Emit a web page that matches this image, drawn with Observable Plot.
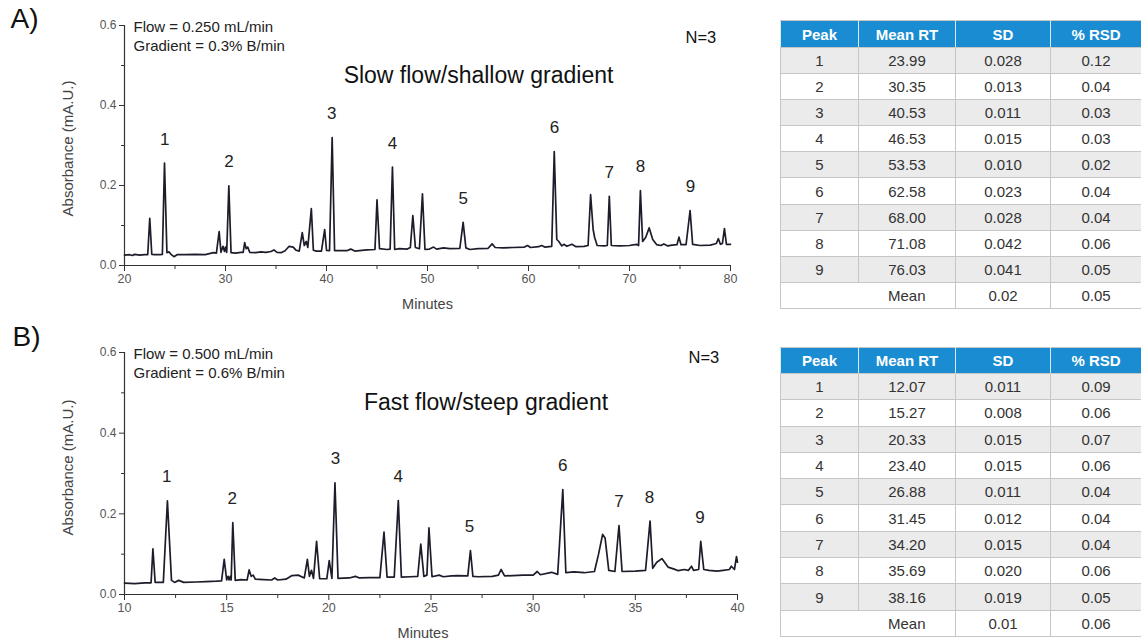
<!DOCTYPE html>
<html>
<head>
<meta charset="utf-8">
<script src="https://cdn.jsdelivr.net/npm/d3@7"></script>
<script src="https://cdn.jsdelivr.net/npm/@observablehq/plot@0.6"></script>
<style>
  html, body { margin: 0; padding: 0; background: #fff; }
  #page { position: relative; width: 1141px; height: 642px; overflow: hidden; background: #fff; font-family: "Liberation Sans", Arial, sans-serif; }
  .chart { position: absolute; left: 0; }
  table.rt { position: absolute; left: 780px; width: 361px; border-collapse: collapse; table-layout: fixed; font-family: "Liberation Sans", Arial, sans-serif; font-size: 15px; color: #333; }
  table.rt th { background: #198cd2; color: #fff; font-weight: bold; font-size: 15px; border: 1px solid #c6c6c6; border-left-color: #d8eaf6; border-right-color: #d8eaf6; text-align: center; padding: 0; }
  table.rt td { border: 1px solid #c6c6c6; text-align: center; padding: 0; }
  table.rt tr.odd td { background: #ebebeb; }
  table.rt tr.even td { background: #fff; }
  table.rt td.blank { border-right: hidden; }
</style>
</head>
<body>
<div id="page"></div>
<script>
// ---------- Data ----------
const peaks = [1, 2, 3, 4, 5, 6, 7, 8, 9];

// Panel A (slow flow / shallow gradient)
const meanRT_A = [23.99, 30.35, 40.53, 46.53, 53.53, 62.58, 68.00, 71.08, 76.03];
const sd_A     = [0.028, 0.013, 0.011, 0.015, 0.010, 0.023, 0.028, 0.042, 0.041];
const rsd_A    = [0.12, 0.04, 0.03, 0.03, 0.02, 0.04, 0.04, 0.06, 0.05];
const mean_A   = [0.02, 0.05];   // mean SD, mean %RSD

// Panel B (fast flow / steep gradient)
const meanRT_B = [12.07, 15.27, 20.33, 23.40, 26.88, 31.45, 34.20, 35.69, 38.16];
const sd_B     = [0.011, 0.008, 0.015, 0.015, 0.011, 0.012, 0.015, 0.020, 0.019];
const rsd_B    = [0.09, 0.06, 0.07, 0.06, 0.04, 0.04, 0.04, 0.06, 0.05];
const mean_B   = [0.01, 0.06];

const tableHeaders = ["Peak", "Mean RT", "SD", "% RSD"];

// Axis ticks
const yMajor = [0, 0.2, 0.4, 0.6];
const yMinor = [0.1, 0.3, 0.5];
const xMajor_A = [20, 30, 40, 50, 60, 70, 80];
const xMinor_A = [25, 35, 45, 55, 65, 75];
const xMajor_B = [10, 15, 20, 25, 30, 35, 40];
const xMinor_B = [12.5, 17.5, 22.5, 27.5, 32.5, 37.5];

// Chromatogram A: [minutes, absorbance]
const traceA = [
  [20.0,0.026],[20.5,0.027],[20.8,0.025],[21.0,0.028],[21.5,0.026],[22.0,0.027],[22.3,0.027],
  [22.5,0.118],[22.7,0.028],[23.0,0.027],[23.5,0.027],[23.75,0.028],[23.96,0.256],[24.2,0.032],
  [24.4,0.034],[24.6,0.028],[24.9,0.022],[25.2,0.027],[26.0,0.027],[27.0,0.028],[28.0,0.027],
  [28.8,0.032],[29.1,0.031],[29.37,0.085],[29.55,0.033],[29.75,0.048],[29.9,0.035],[30.0,0.046],
  [30.12,0.033],[30.33,0.199],[30.55,0.032],[31.0,0.031],[31.5,0.033],[31.75,0.033],[31.9,0.057],
  [32.05,0.042],[32.2,0.046],[32.4,0.033],[33.0,0.032],[33.5,0.034],[34.0,0.033],[34.5,0.035],
  [34.8,0.039],[35.1,0.033],[35.5,0.032],[35.9,0.037],[36.3,0.048],[36.7,0.046],[37.0,0.038],
  [37.3,0.036],[37.6,0.082],[37.8,0.05],[38.0,0.06],[38.15,0.045],[38.5,0.142],[38.7,0.038],
  [39.0,0.036],[39.5,0.036],[39.82,0.09],[40.0,0.038],[40.3,0.037],[40.56,0.32],[40.8,0.037],
  [41.5,0.037],[42.0,0.037],[42.4,0.041],[42.8,0.036],[43.5,0.038],[44.0,0.039],[44.8,0.04],
  [45.0,0.164],[45.25,0.042],[46.0,0.04],[46.3,0.041],[46.53,0.246],[46.75,0.04],[47.2,0.042],
  [48.0,0.041],[48.3,0.045],[48.55,0.125],[48.8,0.045],[49.2,0.042],[49.5,0.179],[49.75,0.04],
  [50.2,0.041],[50.6,0.046],[50.9,0.041],[51.6,0.044],[52.2,0.042],[53.2,0.043],[53.53,0.108],
  [53.8,0.044],[54.2,0.04],[55.0,0.042],[56.0,0.043],[56.4,0.054],[56.7,0.045],[57.5,0.044],
  [58.5,0.045],[59.6,0.046],[59.9,0.05],[60.2,0.045],[61.0,0.047],[61.3,0.05],[61.6,0.046],
  [62.3,0.048],[62.55,0.285],[62.8,0.065],[63.0,0.06],[63.3,0.049],[63.5,0.053],[63.8,0.048],
  [64.3,0.053],[64.7,0.047],[65.5,0.048],[65.9,0.05],[66.15,0.177],[66.4,0.09],[66.55,0.07],
  [66.8,0.05],[67.5,0.049],[67.8,0.05],[68.0,0.173],[68.2,0.05],[69.0,0.049],[70.0,0.05],
  [70.7,0.053],[70.9,0.05],[71.08,0.1875],[71.3,0.06],[71.6,0.07],[71.95,0.094],[72.3,0.065],
  [72.7,0.052],[73.1,0.05],[73.4,0.054],[73.8,0.049],[74.2,0.051],[74.7,0.052],[74.9,0.071],
  [75.1,0.052],[75.6,0.052],[76.0,0.1375],[76.25,0.053],[77.0,0.05],[78.0,0.051],[78.6,0.055],
  [78.8,0.067],[79.0,0.053],[79.2,0.055],[79.4,0.092],[79.6,0.053],[80.0,0.053]
];

// Chromatogram B: [minutes, absorbance]
const traceB = [
  [10.0,0.028],[10.5,0.027],[11.0,0.029],[11.3,0.029],[11.39,0.113],[11.5,0.03],[11.9,0.03],
  [12.1,0.232],[12.3,0.035],[12.45,0.03],[12.65,0.035],[12.9,0.03],[13.5,0.031],[14.0,0.032],
  [14.5,0.033],[14.75,0.034],[14.88,0.087],[15.0,0.036],[15.07,0.045],[15.12,0.036],[15.18,0.045],
  [15.22,0.036],[15.3,0.178],[15.42,0.035],[15.7,0.037],[16.0,0.036],[16.1,0.061],[16.2,0.045],
  [16.3,0.048],[16.4,0.038],[16.8,0.037],[17.2,0.036],[17.35,0.041],[17.5,0.036],[17.9,0.038],
  [18.2,0.047],[18.5,0.048],[18.8,0.041],[18.95,0.087],[19.05,0.045],[19.15,0.06],[19.25,0.04],
  [19.4,0.132],[19.55,0.039],[19.9,0.039],[20.02,0.084],[20.15,0.04],[20.3,0.277],[20.45,0.04],
  [21.0,0.041],[21.3,0.045],[21.5,0.041],[22.0,0.042],[22.5,0.042],[22.7,0.155],[22.85,0.043],
  [23.2,0.043],[23.4,0.233],[23.55,0.043],[24.0,0.044],[24.35,0.045],[24.5,0.125],[24.65,0.045],
  [24.8,0.048],[24.9,0.165],[25.05,0.044],[25.4,0.048],[25.6,0.044],[26.0,0.046],[26.3,0.047],
  [26.8,0.046],[26.93,0.109],[27.05,0.045],[27.3,0.044],[28.0,0.045],[28.3,0.048],[28.43,0.062],
  [28.6,0.046],[29.5,0.048],[30.0,0.048],[30.2,0.057],[30.35,0.049],[30.9,0.055],[31.2,0.05],
  [31.45,0.26],[31.6,0.054],[32.0,0.056],[32.5,0.054],[33.0,0.057],[33.2,0.1],[33.4,0.149],
  [33.52,0.14],[33.7,0.06],[34.0,0.057],[34.2,0.171],[34.35,0.057],[35.0,0.058],[35.5,0.06],
  [35.72,0.182],[35.85,0.065],[36.05,0.08],[36.3,0.089],[36.6,0.068],[36.9,0.063],[37.1,0.059],
  [37.4,0.062],[37.6,0.06],[37.75,0.07],[37.85,0.06],[38.1,0.062],[38.2,0.1315],[38.35,0.062],
  [38.6,0.06],[39.0,0.058],[39.3,0.06],[39.6,0.062],[39.7,0.07],[39.85,0.062],[39.95,0.094],[40.0,0.08]
];

// ---------- Drawing ----------
const FONT = "'Liberation Sans', Arial, sans-serif";

function peakLabels(trace, rts) {
  return peaks.map((p, i) => {
    const near = trace.filter(d => Math.abs(d[0] - rts[i]) <= 0.3);
    const apex = d3.max(near, d => d[1]);
    return {p, t: rts[i], apex};
  });
}

function chromatogram(cfg) {
  const xd = cfg.xDomain;
  return Plot.plot({
    width: 760,
    height: cfg.height,
    marginLeft: 124,
    marginRight: cfg.marginRight,
    marginTop: 25,
    marginBottom: cfg.marginBottom,
    style: {fontFamily: FONT, background: "transparent", overflow: "visible"},
    x: {domain: xd},
    y: {domain: [0, 0.6]},
    marks: [
      Plot.axisX({ticks: cfg.xMajor, tickSize: 6, tickPadding: 3, tickFormat: d => String(d), fontSize: 12.5, color: "#555", stroke: "#333", label: null}),
      Plot.axisX({ticks: cfg.xMinor, tickSize: 4, tickFormat: () => "", stroke: "#333", label: null}),
      Plot.axisY({ticks: yMajor, tickSize: 5, tickPadding: 3, tickFormat: d => d.toFixed(1), fontSize: 12, color: "#555", stroke: "#333", label: null}),
      Plot.axisY({ticks: yMinor, tickSize: 3, tickFormat: () => "", stroke: "#333", label: null}),
      Plot.ruleY([0], {x1: xd[0], x2: xd[1], stroke: "#333", strokeWidth: 1.2}),
      Plot.ruleX([xd[0]], {y1: 0, y2: 0.6, stroke: "#333", strokeWidth: 1.2}),
      Plot.line(cfg.trace, {x: d => d[0], y: d => d[1], stroke: "#1f1b2b", strokeWidth: 1.7}),
      Plot.text(peakLabels(cfg.trace, cfg.rts), {x: "t", y: "apex", text: d => String(d.p), dy: -24, fontSize: 17, fill: "#222", lineAnchor: "middle"}),
      // annotations
      Plot.text([cfg.panel], {frameAnchor: "top-left", textAnchor: "start", lineAnchor: "top", dx: cfg.panelDx, dy: cfg.panelDy, fontSize: 28, fill: "#111"}),
      Plot.text([cfg.flow], {frameAnchor: "top-left", textAnchor: "start", lineAnchor: "top", dx: 9, dy: -4, fontSize: 15, fill: "#222"}),
      Plot.text([cfg.grad], {frameAnchor: "top-left", textAnchor: "start", lineAnchor: "top", dx: 9, dy: 15, fontSize: 15, fill: "#222"}),
      Plot.text([cfg.title], {frameAnchor: "top", lineAnchor: "middle", dx: cfg.titleDx, dy: 50, fontSize: 23, fill: "#111"}),
      Plot.text(["N=3"], {frameAnchor: "top-left", textAnchor: "start", lineAnchor: "middle", dx: cfg.nDx, dy: cfg.nDy, fontSize: 16.5, fill: "#111"}),
      Plot.text(["Absorbance (mA.U.)"], {frameAnchor: "left", textAnchor: "middle", rotate: -90, lineAnchor: "middle", dx: -56, dy: cfg.absDy, fontSize: 15, fill: "#444"}),
      Plot.text(["Minutes"], {frameAnchor: "bottom", textAnchor: "middle", lineAnchor: "middle", dx: cfg.minDx, dy: cfg.minDy, fontSize: 14.5, fill: "#444"})
    ]
  });
}

function makeTable(top, headH, rowH, rts, sds, rsds, means) {
  const t = document.createElement("table");
  t.className = "rt";
  t.style.top = top + "px";
  const colW = [78, 97, 95, 91];
  const cg = document.createElement("colgroup");
  colW.forEach(w => { const c = document.createElement("col"); c.style.width = w + "px"; cg.appendChild(c); });
  t.appendChild(cg);
  const hr = document.createElement("tr");
  hr.style.height = headH + "px";
  tableHeaders.forEach(h => { const th = document.createElement("th"); th.textContent = h; hr.appendChild(th); });
  t.appendChild(hr);
  peaks.forEach((p, i) => {
    const tr = document.createElement("tr");
    tr.className = i % 2 === 0 ? "odd" : "even";
    tr.style.height = rowH + "px";
    [String(p), rts[i].toFixed(2), sds[i].toFixed(3), rsds[i].toFixed(2)].forEach(v => {
      const td = document.createElement("td"); td.textContent = v; tr.appendChild(td);
    });
    t.appendChild(tr);
  });
  const mr = document.createElement("tr");
  mr.className = "even";
  mr.style.height = rowH + "px";
  ["", "Mean", means[0].toFixed(2), means[1].toFixed(2)].forEach((v, j) => {
    const td = document.createElement("td"); td.textContent = v;
    if (j === 0) td.className = "blank";
    mr.appendChild(td);
  });
  t.appendChild(mr);
  return t;
}

const page = document.getElementById("page");

const chartA = chromatogram({
  height: 320, marginRight: 30, marginBottom: 55,
  xDomain: [20, 80], xMajor: xMajor_A, xMinor: xMinor_A,
  trace: traceA, rts: meanRT_A,
  panel: "A)", panelDx: -114, panelDy: -17,
  flow: "Flow = 0.250 mL/min", grad: "Gradient = 0.3% B/min",
  title: "Slow flow/shallow gradient", titleDx: 51,
  nDx: 561, nDy: 12, minDx: 0, minDy: 39, absDy: 3
});
chartA.classList.add("chart");
chartA.style.top = "0px";
page.appendChild(chartA);

const chartB = chromatogram({
  height: 315, marginRight: 23, marginBottom: 48,
  xDomain: [10, 40], xMajor: xMajor_B, xMinor: xMinor_B,
  trace: traceB, rts: meanRT_B,
  panel: "B)", panelDx: -112, panelDy: -26,
  flow: "Flow = 0.500 mL/min", grad: "Gradient = 0.6% B/min",
  title: "Fast flow/steep gradient", titleDx: 55,
  nDx: 564, nDy: 5, minDx: -8, minDy: 39, absDy: -6
});
chartB.classList.add("chart");
chartB.style.top = "327px";
page.appendChild(chartB);

page.appendChild(makeTable(20, 27, 26.1, meanRT_A, sd_A, rsd_A, mean_A));
page.appendChild(makeTable(347, 26, 26.3, meanRT_B, sd_B, rsd_B, mean_B));
</script>
</body>
</html>
